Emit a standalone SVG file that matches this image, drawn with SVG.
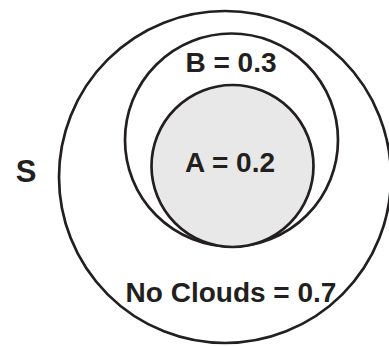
<svg xmlns="http://www.w3.org/2000/svg" width="389" height="346" viewBox="0 0 389 346">
<style>
.c{fill:none;stroke:#231f20;stroke-width:2.7}
.t{font-family:"Liberation Sans",Arial,sans-serif;font-weight:bold;font-size:28px;fill:#231f20;text-anchor:middle}
</style>
<rect width="389" height="346" fill="#ffffff"/>
<g id="S">
<circle class="c" cx="225" cy="177" r="166"/>
<text class="t" x="26" y="182" style="font-size:31px">S</text>
</g>
<g id="B">
<circle class="c" cx="231.5" cy="140" r="106.5"/>
<text class="t" x="231" y="71.5">B = 0.3</text>
</g>
<g id="A">
<circle class="c" cx="232.5" cy="166" r="81" style="fill:#e8e8e8"/>
<text class="t" x="230" y="171.5">A = 0.2</text>
</g>
<g id="noclouds">
<text class="t" x="231" y="301.5">No Clouds = 0.7</text>
</g>
<g id="connectors"/>
</svg>
